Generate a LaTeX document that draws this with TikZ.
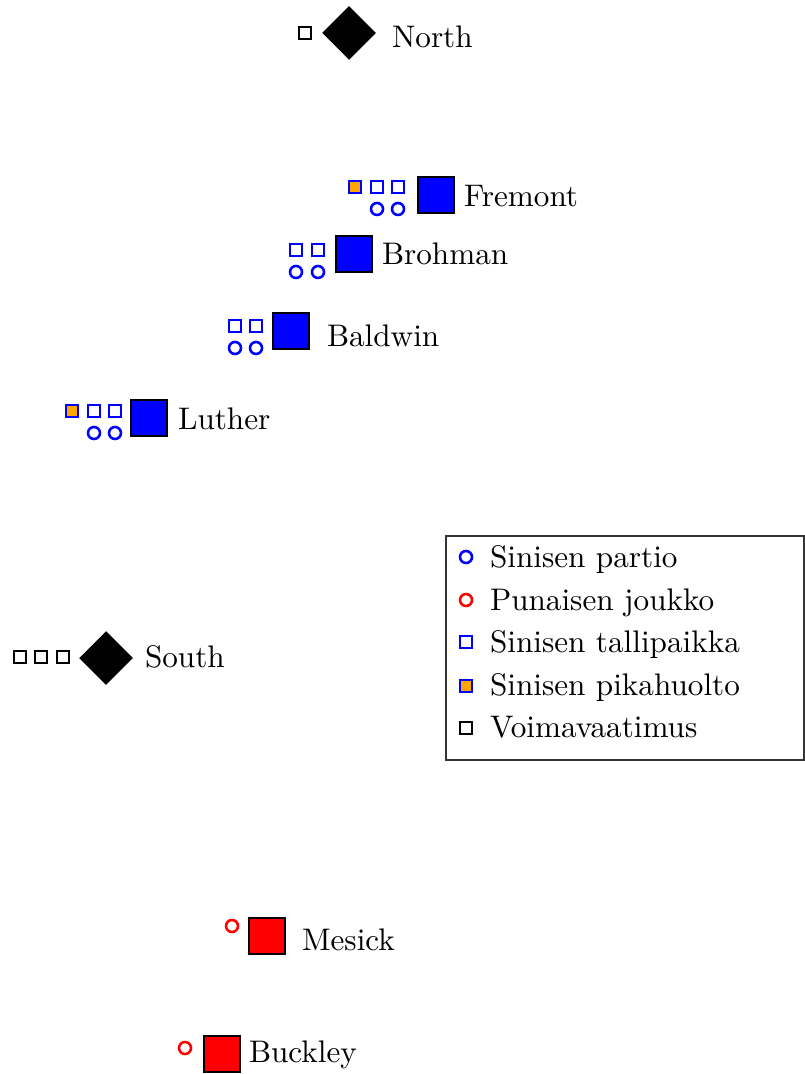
\documentclass[tikz,border=0pt]{standalone}
\usetikzlibrary{shapes.geometric}
\definecolor{quickorange}{RGB}{255,165,0}
\begin{document}
\begin{tikzpicture}[x=0.3333pt,y=-0.3333pt,
  every node/.style={font=\fontsize{10.4pt}{12.5pt}\selectfont},
  lbl/.style={anchor=base west,inner sep=0pt,outer sep=0pt},
  bigsq/.style={draw=black,line width=0.4pt,minimum size=12pt,inner sep=0pt,rectangle},
  bluesq/.style={bigsq,fill=blue},
  redsq/.style={bigsq,fill=red},
  dia/.style={diamond,fill=black,inner sep=0pt,minimum size=18pt},
  bstall/.style={draw=blue,line width=0.85pt,minimum size=3.9pt,inner sep=0pt,rectangle},
  bquick/.style={draw=blue,fill=quickorange,line width=0.85pt,minimum size=3.9pt,inner sep=0pt,rectangle},
  kreq/.style={draw=black,line width=0.85pt,minimum size=3.9pt,inner sep=0pt,rectangle},
  bpat/.style={draw=blue,line width=0.85pt,circle,minimum size=4pt,inner sep=0pt},
  rpat/.style={draw=red,line width=0.85pt,circle,minimum size=4pt,inner sep=0pt}]
\useasboundingbox (0,0) rectangle (804,1074);
% North
\node[kreq] (nreq) at (305,33) {};
\node[dia] (north) at (349,33) {};
\node[lbl] (northl) at (392,48) {North};
% Fremont
\node[bquick] (fq) at (355,187) {};
\node[bstall] (fs1) at (377,187) {};
\node[bstall] (fs2) at (398,187) {};
\node[bpat] (fp1) at (377,209) {};
\node[bpat] (fp2) at (398,209) {};
\node[bluesq] (fremont) at (436,195) {};
\node[lbl] (fremontl) at (464,207) {Fremont};
% Brohman
\node[bstall] (bs1) at (296,250) {};
\node[bstall] (bs2) at (318,250) {};
\node[bpat] (bp1) at (296,272) {};
\node[bpat] (bp2) at (318,272) {};
\node[bluesq] (brohman) at (354,254) {};
\node[lbl] (brohmanl) at (382,265) {Brohman};
% Baldwin
\node[bstall] (ds1) at (235,326) {};
\node[bstall] (ds2) at (256,326) {};
\node[bpat] (dp1) at (235,348) {};
\node[bpat] (dp2) at (256,348) {};
\node[bluesq] (baldwin) at (291,331) {};
\node[lbl] (baldwinl) at (327,347) {Baldwin};
% Luther
\node[bquick] (lq) at (72,411) {};
\node[bstall] (ls1) at (94,411) {};
\node[bstall] (ls2) at (115,411) {};
\node[bpat] (lp1) at (94,433) {};
\node[bpat] (lp2) at (115,433) {};
\node[bluesq] (luther) at (149,418) {};
\node[lbl] (lutherl) at (178,430) {Luther};
% South
\node[kreq] (sr1) at (20,657) {};
\node[kreq] (sr2) at (41,657) {};
\node[kreq] (sr3) at (63,657) {};
\node[dia] (south) at (106,658) {};
\node[lbl] (southl) at (145,667) {South};
% Mesick
\node[rpat] (mp) at (232,926) {};
\node[redsq] (mesick) at (267,936) {};
\node[lbl] (mesickl) at (302,950) {Mesick};
% Buckley
\node[rpat] (kp) at (185,1048) {};
\node[redsq] (buckley) at (222,1054) {};
\node[lbl] (buckleyl) at (249,1062) {Buckley};
% Legend
\draw[line width=0.45pt,draw=black!80] (446,536) rectangle (804,760);
\node[bpat] (lg1) at (466,557) {};
\node[lbl] (lg1t) at (490,567) {Sinisen partio};
\node[rpat] (lg2) at (466,600) {};
\node[lbl] (lg2t) at (490,610) {Punaisen joukko};
\node[bstall] (lg3) at (466,642) {};
\node[lbl] (lg3t) at (490,652) {Sinisen tallipaikka};
\node[bquick] (lg4) at (466,686) {};
\node[lbl] (lg4t) at (490,695) {Sinisen pikahuolto};
\node[kreq] (lg5) at (466,728) {};
\node[lbl] (lg5t) at (490,737) {Voimavaatimus};
\end{tikzpicture}
\end{document}
